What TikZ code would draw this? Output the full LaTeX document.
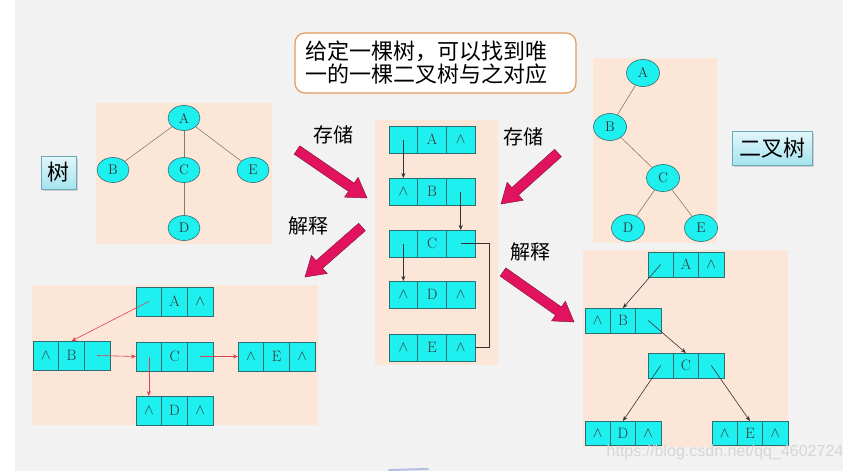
\documentclass[tikz,border=0pt]{standalone}
\usepackage{fontspec}
\newfontfamily\cjk{Noto Sans CJK SC}
\newfontfamily\wmfont{Liberation Sans}
\usetikzlibrary{shapes.geometric,calc,shadows,arrows.meta}
\definecolor{bggray}{HTML}{F2F2F2}
\definecolor{peach}{HTML}{FBE6D8}
\definecolor{cyanfill}{HTML}{1EF0F0}
\definecolor{celledge}{HTML}{2E6E70}
\definecolor{treeedge}{HTML}{8C7B6B}
\definecolor{pinkarrow}{HTML}{E3125E}
\definecolor{pinkedge}{HTML}{8A1A40}
\definecolor{calloutedge}{HTML}{E39B5C}
\definecolor{redptr}{HTML}{E0404E}
\definecolor{boxtop}{HTML}{E2F7FB}
\definecolor{boxbot}{HTML}{A6E3EF}
\definecolor{boxedge}{HTML}{6FA9B6}
\definecolor{wmcolor}{HTML}{D4D6DA}
\newcommand{\nil}{$\wedge$}
\newcommand{\recnodes}[8]{%
  \node[cell, minimum width=#4, minimum height=#5, anchor=north west] (#1-1) at (#2,#3) {#6};
  \node[cell, minimum width=#4, minimum height=#5, anchor=north west] (#1-2) at (#1-1.north east) {#7};
  \node[cell, minimum width=#4, minimum height=#5, anchor=north west] (#1-3) at (#1-2.north east) {#8};}
\newcommand{\fatarrow}[2]{%
  \coordinate (#1h) at ($(#2)!19pt!(#1)$);
  \filldraw[fatarr] ($(#1)!5pt!90:(#2)$) -- ($(#1h)!5pt!90:(#2)$) -- ($(#1h)!12pt!90:(#2)$) -- (#2)
     -- ($(#1h)!12pt!-90:(#2)$) -- ($(#1h)!5pt!-90:(#2)$) -- ($(#1)!5pt!-90:(#2)$) -- cycle;}
\begin{document}
\begin{tikzpicture}[x=1pt,y=-1pt,
  cell/.style={draw=celledge, fill=cyanfill, line width=0.8pt, inner sep=0pt, outer sep=0pt,
    font=\fontsize{15}{15}\selectfont, text=black!80},
  tnode/.style={ellipse, draw=celledge, fill=cyanfill, line width=0.6pt, inner sep=0pt,
    minimum width=32pt, minimum height=25pt, font=\fontsize{14}{14}\selectfont, text=black!80},
  tedge/.style={draw=treeedge, line width=0.6pt},
  ptr/.style={-{Stealth[length=5pt,width=4pt]}, line width=0.6pt, draw=black!80},
  rptr/.style={-{Stealth[length=5pt,width=4pt]}, line width=0.6pt, draw=redptr},
  fatarr/.style={fill=pinkarrow, draw=pinkedge, line width=0.5pt, line join=miter},
  lbl/.style={font=\cjk\fontsize{20}{20}\selectfont, inner sep=0pt},
  tag/.style={draw=boxedge, top color=boxtop, bottom color=boxbot, line width=0.8pt,
    drop shadow={opacity=0.3, shadow xshift=1.5pt, shadow yshift=-1.5pt},
    font=\cjk\fontsize{22}{22}\selectfont, inner sep=0pt},
  panel/.style={fill=peach, draw=none}]
\useasboundingbox (0,0) rectangle (861,471);
\fill[white] (0,0) rectangle (861,471);
\fill[bggray] (15,0) rectangle (843,471);
% panels
\path[panel] (96,103) rectangle (272,244);
\path[panel] (375,120) rectangle (498,365);
\path[panel] (593,58) rectangle (717,243);
\path[panel] (32,285) rectangle (318,425);
\path[panel] (583,250) rectangle (788,447);
% callout
\node[draw=calloutedge, line width=1.2pt, fill=white, rounded corners=10pt,
  minimum width=281pt, minimum height=60pt] (callout) at (435.5,63) {};
\node[anchor=west, align=left, inner sep=0pt, font=\cjk\fontsize{22}{23}\selectfont] (callouttext) at (305,63)
  {给定一棵树，可以找到唯\\一的一棵二叉树与之对应};
% left tree
\node[tnode] (tA) at (184,118) {A};
\node[tnode] (tB) at (113,170) {B};
\node[tnode] (tC) at (184,170) {C};
\node[tnode] (tE) at (253,170) {E};
\node[tnode] (tD) at (184,228) {D};
\draw[tedge] (tA) -- (tB); \draw[tedge] (tA) -- (tC); \draw[tedge] (tA) -- (tE); \draw[tedge] (tC) -- (tD);
\node[tag, minimum width=35pt, minimum height=33pt] (tagtree) at (58.5,172.5) {树};
% right binary tree
\begin{scope}[tnode/.append style={minimum width=33pt, minimum height=27pt}]
\node[tnode] (bA) at (643,73) {A};
\node[tnode] (bB) at (610,127) {B};
\node[tnode] (bC) at (663,178) {C};
\node[tnode] (bD) at (628,228) {D};
\node[tnode] (bE) at (701,228) {E};
\end{scope}
\draw[tedge] (bA) -- (bB); \draw[tedge] (bB) -- (bC); \draw[tedge] (bC) -- (bD); \draw[tedge] (bC) -- (bE);
\node[tag, minimum width=80pt, minimum height=34pt] (tagbin) at (772,148) {二叉树};
% middle storage
\recnodes{mA}{389}{126}{28.7pt}{27pt}{}{A}{\nil}
\recnodes{mB}{389}{178}{28.7pt}{27pt}{\nil}{B}{}
\recnodes{mC}{389}{230}{28.7pt}{27pt}{}{C}{}
\recnodes{mD}{389}{281}{28.7pt}{27pt}{\nil}{D}{\nil}
\recnodes{mE}{389}{334}{28.7pt}{27pt}{\nil}{E}{\nil}
\draw[ptr] (mA-1.center) -- (mB-1.north);
\draw[ptr] (mB-3.center) -- (mC-3.north);
\draw[ptr] (mC-1.center) -- (mD-1.north);
\draw[line width=0.6pt, draw=black!80] (mC-3.center) -- ++(29,0) |- (mE-3.east);
% bottom-left interpretation as tree
\recnodes{lA}{136}{287}{25.7pt}{29pt}{}{A}{\nil}
\recnodes{lB}{33}{341}{25.7pt}{29pt}{\nil}{B}{}
\recnodes{lC}{136}{342}{25.7pt}{29pt}{}{C}{}
\recnodes{lE}{238}{342}{25.7pt}{29pt}{\nil}{E}{\nil}
\recnodes{lD}{136}{396}{25.7pt}{29pt}{\nil}{D}{\nil}
\draw[rptr] (lA-1.center) -- (lB-2.north);
\draw[rptr] (lB-3.center) -- (lC-1.west);
\draw[rptr] (lC-1.center) -- (lD-1.north);
\draw[rptr] (lC-3.center) -- (lE-1.west);
% bottom-right interpretation as binary tree
\recnodes{rA}{648}{252}{25.3pt}{25pt}{}{A}{\nil}
\recnodes{rB}{585}{308}{25.3pt}{25pt}{\nil}{B}{}
\recnodes{rC}{648}{353}{25.3pt}{25pt}{}{C}{}
\recnodes{rD}{585}{421}{25.3pt}{24pt}{\nil}{D}{\nil}
\recnodes{rE}{712}{421}{25.3pt}{24pt}{\nil}{E}{\nil}
\draw[ptr] (rA-1.center) -- (rB-2.north);
\draw[ptr] (rB-3.center) -- (rC-2.north);
\draw[ptr] (rC-1.center) -- (rD-2.north);
\draw[ptr] (rC-3.center) -- (rE-2.north);
% fat arrows
\coordinate (sa) at (297,150); \coordinate (sat) at (367,198);
\coordinate (ia) at (362,227); \coordinate (iat) at (305,277);
\coordinate (sb) at (558,153); \coordinate (sbt) at (501,204);
\coordinate (ib) at (503,272); \coordinate (ibt) at (574,322);
\fatarrow{sa}{sat}
\fatarrow{ia}{iat}
\fatarrow{sb}{sbt}
\fatarrow{ib}{ibt}
\node[lbl] (lsa) at (333,135) {存储};
\node[lbl] (lia) at (308,226) {解释};
\node[lbl] (lsb) at (523,137) {存储};
\node[lbl] (lib) at (530,252) {解释};
% watermark
\node[font=\wmfont\fontsize{16}{16}\selectfont, text=wmcolor, inner sep=0pt] (wm) at (725,452) {https://blog.csdn.net/qq\_4602724};
\draw[line width=2pt, draw=cyan!40!blue!50, opacity=0.6, line cap=round] (389,470) -- (428,469);
\end{tikzpicture}
\end{document}
